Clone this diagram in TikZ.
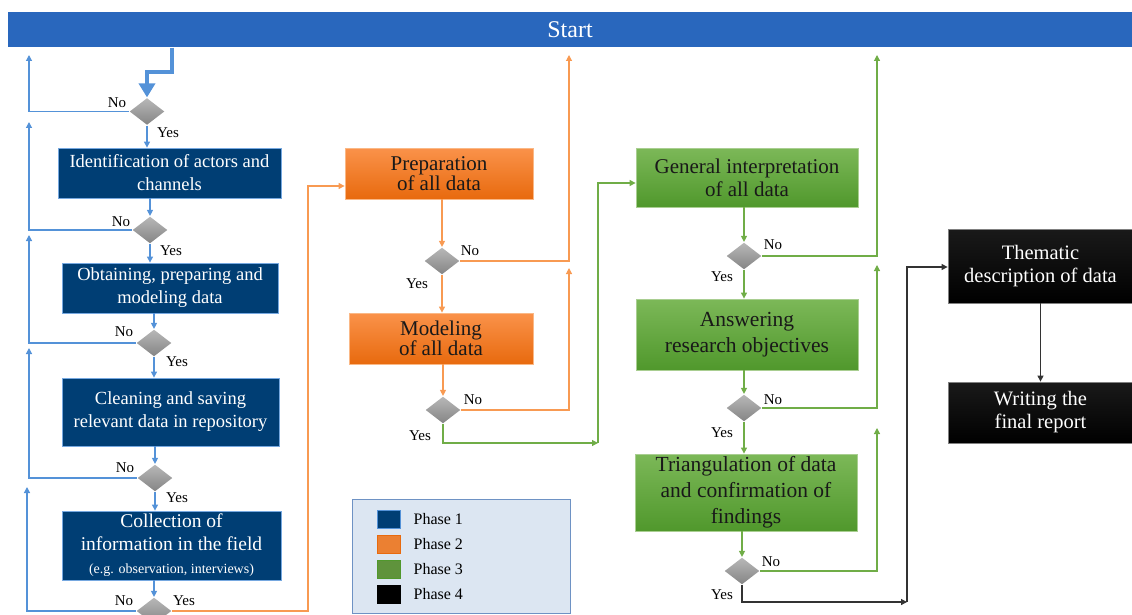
\documentclass[tikz,border=0pt]{standalone}
\usepackage{fontspec}
\setmainfont{Liberation Serif}
\usetikzlibrary{shapes.geometric,arrows.meta}
\definecolor{startblue}{RGB}{41,103,189}
\definecolor{phaseone}{RGB}{0,62,116}
\definecolor{linkblue}{RGB}{84,146,216}
\definecolor{linkorange}{RGB}{248,154,82}
\definecolor{linkgreen}{RGB}{112,173,71}
\definecolor{ortop}{RGB}{250,146,74}
\definecolor{orbot}{RGB}{232,106,14}
\definecolor{grtop}{RGB}{124,184,88}
\definecolor{grbot}{RGB}{80,152,44}
\definecolor{legendfill}{RGB}{220,230,242}
\definecolor{legendline}{RGB}{110,146,196}
\begin{document}
\begin{tikzpicture}
[x=1pt,y=-1pt,line width=1.2pt,
 box/.style={rectangle,inner sep=0pt,align=center,line width=.8pt},
 one box/.style={box,fill=phaseone,draw=linkblue!80,text=white,font=\fontsize{18.5}{23}\selectfont},
 two box/.style={box,top color=ortop,bottom color=orbot,draw=linkorange!70,text=black!90,font=\fontsize{21}{19.5}\selectfont},
 three box/.style={box,top color=grtop,bottom color=grbot,draw=linkgreen!60,text=black!90,font=\fontsize{21.5}{26}\selectfont},
 four box/.style={box,top color=black!90,bottom color=black,draw=black!50,text=white,font=\fontsize{20.5}{23}\selectfont},
 dec/.style={diamond,inner sep=0pt,minimum width=35pt,minimum height=27pt,top color=black!28,bottom color=black!48},
 lbl/.style={inner sep=0pt,font=\fontsize{15}{17}\selectfont},
 tip/.style={-{Triangle[width=6pt,length=6pt]}},
 blue link/.style={tip,draw=linkblue},
 orange link/.style={tip,draw=linkorange},
 green link/.style={tip,draw=linkgreen},
 black link/.style={tip,draw=black!80},
 swatch/.style={rectangle,inner sep=0pt,minimum width=23pt,minimum height=18pt,line width=.6pt}]

\useasboundingbox (0,0) rectangle (1132,615);

\node[rectangle,fill=startblue,minimum width=1124pt,minimum height=35pt,inner sep=0pt,text=white,font=\fontsize{24}{26}\selectfont] (Start) at (570,29.5) {Start};

% phase 1
\node[dec] (D0) at (147,111.5) {};
\node[one box,minimum width=223pt,minimum height=50pt] (B1) at (169.5,173) {Identification of actors and\\channels};
\node[dec] (D1) at (150,230) {};
\node[one box,minimum width=216pt,minimum height=50pt] (B2) at (170,288) {Obtaining, preparing and\\modeling data};
\node[dec] (D2) at (154,343) {};
\node[one box,minimum width=217pt,minimum height=68pt] (B3) at (170.5,412) {Cleaning and saving\\relevant data in repository};
\node[dec] (D3) at (155,478) {};
\node[one box,minimum width=219pt,minimum height=69pt,font=\fontsize{19.5}{23}\selectfont] (B4) at (171.5,545.5) {Collection of\\information in the field\\{\fontsize{14}{16}\selectfont (e.g. observation, interviews)}};
\node[dec] (D4) at (154,611) {};

% phase 2
\node[two box,minimum width=188pt,minimum height=51pt] (P1) at (439,173.5) {Preparation\\of all data};
\node[dec] (DP1) at (442,261) {};
\node[two box,minimum width=184pt,minimum height=51pt] (P2) at (441,338.5) {Modeling\\of all data};
\node[dec] (DP2) at (443,410) {};

% phase 3
\node[three box,minimum width=222pt,minimum height=59pt,font=\fontsize{21}{23}\selectfont] (G1) at (747,177.5) {General interpretation\\of all data};
\node[dec] (DG1) at (744,256) {};
\node[three box,minimum width=222pt,minimum height=71pt] (G2) at (747,334.5) {Answering\\research objectives};
\node[dec] (DG2) at (744,408) {};
\node[three box,minimum width=222pt,minimum height=77pt] (G3) at (746,492.5) {Triangulation of data\\and confirmation of\\findings};
\node[dec] (DG3) at (742,571) {};

% phase 4
\node[four box,minimum width=185pt,minimum height=74pt] (T1) at (1040.5,266) {Thematic\\description of data};
\node[four box,minimum width=185pt,minimum height=61pt] (T2) at (1040.5,412.5) {Writing the\\final report};

% yes / no
\node[lbl] (n0) at (117,103) {No};
\node[lbl] (y0) at (168,133) {Yes};
\node[lbl] (n1) at (121,222) {No};
\node[lbl] (y1) at (171,251) {Yes};
\node[lbl] (n2) at (124,332) {No};
\node[lbl] (y2) at (177,362) {Yes};
\node[lbl] (n3) at (125,468) {No};
\node[lbl] (y3) at (177,498) {Yes};
\node[lbl] (n4) at (124,601) {No};
\node[lbl] (y4) at (184,601) {Yes};
\node[lbl] (np1) at (470,251) {No};
\node[lbl] (yp1) at (417,284) {Yes};
\node[lbl] (np2) at (473,400) {No};
\node[lbl] (yp2) at (420,436) {Yes};
\node[lbl] (ng1) at (773,245) {No};
\node[lbl] (yg1) at (722,277) {Yes};
\node[lbl] (ng2) at (773,400) {No};
\node[lbl] (yg2) at (722,433) {Yes};
\node[lbl] (ng3) at (771,562) {No};
\node[lbl] (yg3) at (722,595) {Yes};

% loop ends
\coordinate (r0) at (29,55);
\coordinate (r1) at (29,122);
\coordinate (r2) at (29,235);
\coordinate (r3) at (29,348);
\coordinate (r4) at (27,487);
\coordinate (k1) at (172,72);
\coordinate (o1) at (308,186);
\coordinate (o2) at (569,55);
\coordinate (o3) at (569,268);
\coordinate (g0) at (598,443);
\coordinate (g1) at (598,183);
\coordinate (g2) at (877,55);
\coordinate (g3) at (877,265);
\coordinate (g4) at (877,428);
\coordinate (k2) at (907,602);
\coordinate (k3) at (907,267);

\draw[draw=linkblue,line width=4pt,-{Triangle[width=16pt,length=14pt]}] (k1 |- Start.south) -- (k1) -- (k1 -| D0) -- (D0.north); %entry

\draw[blue link] (D0.west) -| (r0);
\draw[blue link] (D1.west) -| (r1);
\draw[blue link] (D2.west) -| (r2);
\draw[blue link] (D3.west) -| (r3);
\draw[blue link] (D4.west) -| (r4);
\draw[blue link] (D0.south) -- (D0.south |- B1.north);
\draw[blue link] (B1.south -| D1) -- (D1.north);
\draw[blue link] (D1.south) -- (D1.south |- B2.north);
\draw[blue link] (B2.south -| D2) -- (D2.north);
\draw[blue link] (D2.south) -- (D2.south |- B3.north);
\draw[blue link] (B3.south -| D3) -- (D3.north);
\draw[blue link] (D3.south) -- (D3.south |- B4.north);
\draw[blue link] (B4.south -| D4) -- (D4.north);

\draw[orange link] (D4.east) -| (o1) -- (o1 -| P1.west);
\draw[orange link] (P1.south -| DP1) -- (DP1.north);
\draw[orange link] (DP1.east) -| (o2);
\draw[orange link] (DP1.south) -- (DP1.south |- P2.north);
\draw[orange link] (P2.south -| DP2) -- (DP2.north);
\draw[orange link] (DP2.east) -| (o3);

\draw[green link] (DP2.south) |- (g0);
\draw[green link] (g0) -- (g1) -- (g1 -| G1.west);
\draw[green link] (G1.south -| DG1) -- (DG1.north);
\draw[green link] (DG1.east) -| (g2);
\draw[green link] (DG1.south) -- (DG1.south |- G2.north);
\draw[green link] (G2.south -| DG2) -- (DG2.north);
\draw[green link] (DG2.east) -| (g3);
\draw[green link] (DG2.south) -- (DG2.south |- G3.north);
\draw[green link] (G3.south -| DG3) -- (DG3.north);
\draw[green link] (DG3.east) -| (g4);

\draw[black link] (DG3.south) |- (k2);
\draw[black link] (k2) -- (k3) -- (k3 -| T1.west);
\draw[black link] (T1.south) -- (T2.north);

% legend
\node[rectangle,fill=legendfill,draw=legendline,line width=.8pt,minimum width=218pt,minimum height=114pt,inner sep=0pt] (lgd) at (461,556) {};
\node[swatch,fill=phaseone,draw=linkblue] (sw1) at (388.5,519) {};
\node[swatch,fill=orbot!85!white,draw=orbot] (sw2) at (388.5,544) {};
\node[swatch,fill=linkgreen!85!black,draw=grbot] (sw3) at (388.5,569) {};
\node[swatch,fill=black,draw=black] (sw4) at (388.5,594) {};
\node[lbl,anchor=west,font=\fontsize{16}{18}\selectfont] (lt1) at (413,519) {Phase 1};
\node[lbl,anchor=west,font=\fontsize{16}{18}\selectfont] (lt2) at (413,544) {Phase 2};
\node[lbl,anchor=west,font=\fontsize{16}{18}\selectfont] (lt3) at (413,569) {Phase 3};
\node[lbl,anchor=west,font=\fontsize{16}{18}\selectfont] (lt4) at (413,594) {Phase 4};

\end{tikzpicture}
\end{document}
